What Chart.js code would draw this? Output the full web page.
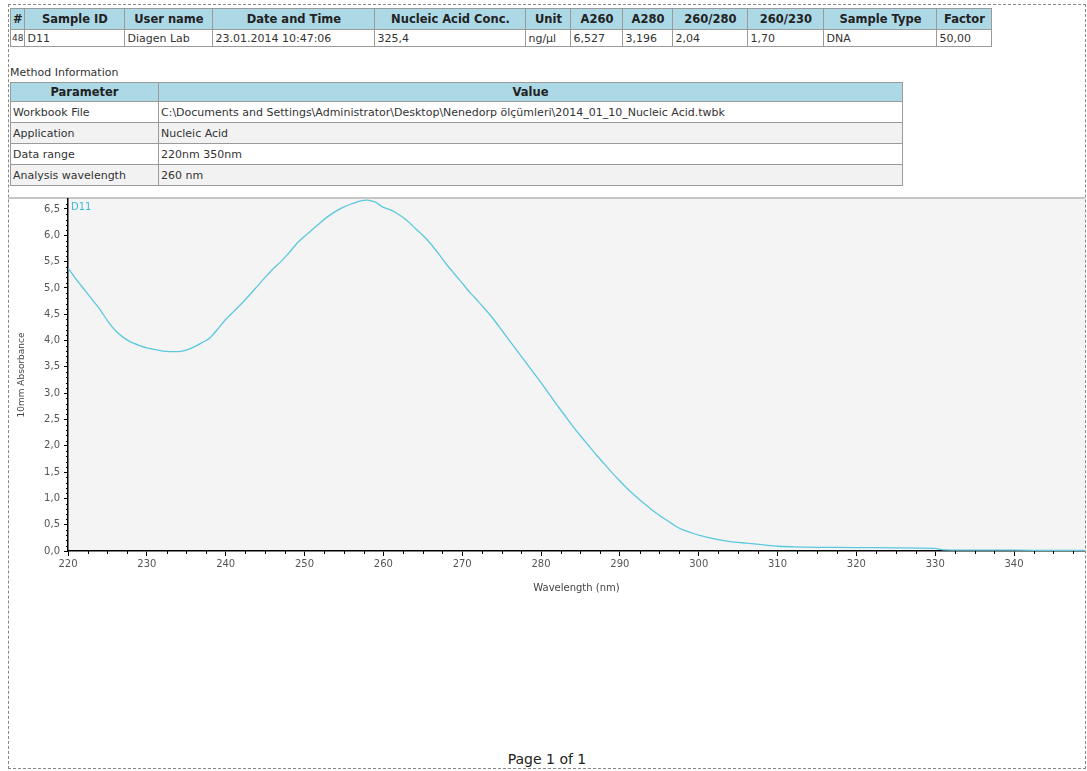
<!DOCTYPE html>
<html>
<head>
<meta charset="utf-8">
<script src="https://cdn.jsdelivr.net/npm/chart.js@4.4.1/dist/chart.umd.min.js"></script>
<style>
body{margin:0;background:#fff;font-family:"DejaVu Sans",Verdana,sans-serif;color:#333;}
#page{position:absolute;left:8px;top:4px;width:1076px;height:763px;border:1px dashed #888;}
table{position:absolute;border-collapse:collapse;table-layout:fixed;}
td,th{border:1px solid #9a9a9a;padding:0 2px;white-space:nowrap;overflow:hidden;font-size:11px;text-align:left;}
th{background:#add8e6;font-weight:bold;color:#222;font-size:11.5px;}
#sample{left:10px;top:8px;}
#sample th{height:20px;text-align:center;}
#sample td{height:16px;}
#methodTitle{position:absolute;left:10px;top:66px;font-size:11px;color:#333;}
#method{left:10px;top:82px;}
#method th{height:18px;text-align:center;}
#method td{height:20px;}
#method tr:nth-child(even) td{background:#f2f2f2;}
#wrap{position:absolute;left:8px;top:189px;width:1077px;height:409px;}
#footer{position:absolute;left:0;width:1094px;top:751px;text-align:center;font-size:14px;color:#222;}
</style>
</head>
<body>
<div id="page"></div>
<table id="sample"><thead><tr id="sampleHead"></tr></thead><tbody><tr id="sampleRow"></tr></tbody></table>
<div id="methodTitle">Method Information</div>
<table id="method"><thead><tr><th style="width:143px">Parameter</th><th style="width:739px">Value</th></tr></thead><tbody id="methodBody"></tbody></table>
<div id="wrap"><canvas id="myChart"></canvas></div>
<div id="footer">Page 1 of 1</div>
<script>
var sampleHeaders = ['#','Sample ID','User name','Date and Time','Nucleic Acid Conc.','Unit','A260','A280','260/280','260/230','Sample Type','Factor'];
var sampleValues = ['48','D11','Diagen Lab','23.01.2014 10:47:06','325,4','ng/\u00b5l','6,527','3,196','2,04','1,70','DNA','50,00'];
var sampleWidths = [8,95,83,157,146,40,47,45,70,71,108,50];

var methodParams = ['Workbook File','Application','Data range','Analysis wavelength'];
var methodValues = ['C:\\Documents  and  Settings\\Administrator\\Desktop\\Nenedorp  \u00f6l\u00e7\u00fcmleri\\2014_01_10_Nucleic  Acid.twbk','Nucleic Acid','220nm  350nm','260 nm'];

var wavelengths = [220,221,222,223,224,225,226,227,228,229,230,231,232,233,234,235,236,237,238,239,
  240,241,242,243,244,245,246,247,248,249,250,251,252,253,254,255,256,257,258,259,
  260,261,262,263,264,265,266,267,268,269,270,271,272,273,274,275,276,277,278,279,
  280,281,282,283,284,285,286,287,288,289,290,291,292,293,294,295,296,297,298,299,
  300,302,304,306,308,310,312,315,320,325,330,331,335,340,345,349];
var absorbance = [5.38,5.17,4.98,4.79,4.60,4.38,4.19,4.06,3.97,3.91,3.86,3.83,3.80,3.79,3.79,3.82,3.88,3.96,4.05,4.22,
  4.40,4.55,4.70,4.86,5.03,5.20,5.36,5.50,5.66,5.84,5.98,6.11,6.24,6.36,6.46,6.54,6.60,6.65,6.67,6.63,
  6.53,6.48,6.39,6.28,6.14,6.00,5.84,5.65,5.45,5.27,5.09,4.91,4.75,4.58,4.40,4.20,4.00,3.80,3.60,3.40,
  3.20,2.99,2.78,2.58,2.38,2.19,2.01,1.83,1.66,1.49,1.33,1.18,1.04,0.91,0.79,0.68,0.58,0.48,0.40,0.35,
  0.30,0.23,0.18,0.15,0.12,0.09,0.08,0.07,0.065,0.06,0.05,0.02,0.018,0.015,0.012,0.012];

var head = document.getElementById('sampleHead');
var row = document.getElementById('sampleRow');
for (var i = 0; i < sampleHeaders.length; i++) {
  var th = document.createElement('th');
  th.textContent = sampleHeaders[i];
  th.style.width = sampleWidths[i] + 'px';
  if (i == 0) th.style.padding = '0 1px';
  head.appendChild(th);
  var td = document.createElement('td');
  td.textContent = sampleValues[i];
  if (i == 0) { td.style.padding = '0 1px'; td.style.fontSize = '9px'; }
  row.appendChild(td);
}
var body = document.getElementById('methodBody');
for (var j = 0; j < methodParams.length; j++) {
  var tr = document.createElement('tr');
  var a = document.createElement('td'); a.textContent = methodParams[j];
  var b = document.createElement('td'); b.textContent = methodValues[j];
  tr.appendChild(a); tr.appendChild(b);
  body.appendChild(tr);
}

var points = wavelengths.map(function (w, k) { return {x: w, y: absorbance[k]}; });

// plot background, top rule, minor ticks and series tag
var panel = {
  id: 'panel',
  beforeDraw: function (chart) {
    var ctx = chart.ctx, a = chart.chartArea;
    ctx.save();
    ctx.fillStyle = '#f4f4f4';
    ctx.fillRect(a.left, a.top, a.right - a.left, a.bottom - a.top);
    ctx.fillStyle = '#c6c6c6';
    ctx.fillRect(0, a.top - 2, chart.width, 2);
    ctx.restore();
  },
  afterDraw: function (chart) {
    var ctx = chart.ctx, a = chart.chartArea;
    var xs = chart.scales.x, ys = chart.scales.y;
    ctx.save();
    ctx.strokeStyle = '#000';
    ctx.lineWidth = 1;
    for (var v = 222.5; v < xs.max; v += 2.5) {
      if (v % 10 == 0) continue;
      var px = Math.round(xs.getPixelForValue(v)) + 0.5;
      ctx.beginPath(); ctx.moveTo(px, a.bottom); ctx.lineTo(px, a.bottom + 3); ctx.stroke();
    }
    for (var t = 1; t < 67; t++) {
      if (t % 5 == 0) continue;
      var py = Math.round(ys.getPixelForValue(t / 10)) + 0.5;
      ctx.beginPath(); ctx.moveTo(a.left - 2, py); ctx.lineTo(a.left, py); ctx.stroke();
    }
    ctx.fillStyle = '#3cb9d6';
    ctx.font = '10px "DejaVu Sans"';
    ctx.textBaseline = 'middle';
    ctx.fillText(chart.data.datasets[0].label, a.left + 3, a.top + 8);
    ctx.restore();
  }
};

new Chart('myChart', {
  type: 'line',
  data: {
    datasets: [{
      label: 'D11',
      data: points,
      borderColor: '#5cc8de',
      borderWidth: 1.3,
      pointRadius: 0,
      tension: 0.2,
      fill: false
    }]
  },
  plugins: [panel],
  options: {
    responsive: true,
    maintainAspectRatio: false,
    animation: false,
    layout: {padding: {top: 2, right: 0, left: 0, bottom: 0}},
    plugins: {legend: {display: false}, tooltip: {enabled: false}},
    scales: {
      x: {
        type: 'linear',
        min: 220,
        max: 349,
        afterFit: function (s) { s.height = 47; },
        ticks: {stepSize: 10, includeBounds: false, color: '#555', font: {size: 10, family: 'DejaVu Sans'}, padding: 2,
          callback: function (v) { return String(v); }},
        grid: {drawOnChartArea: false, color: '#000', tickLength: 5},
        border: {color: '#000', width: 1.5},
        title: {display: true, text: 'Wavelength (nm)', color: '#444', font: {size: 10, family: 'DejaVu Sans'}, padding: {top: 2, bottom: 4}}
      },
      y: {
        min: 0,
        max: 6.69,
        afterFit: function (s) { s.width = 60; },
        ticks: {stepSize: 0.5, includeBounds: false, color: '#555', font: {size: 10, family: 'DejaVu Sans'}, padding: 4,
          callback: function (v) { return v.toFixed(1).replace('.', ','); }},
        grid: {drawOnChartArea: false, color: '#000', tickLength: 4},
        border: {color: '#000', width: 1.5},
        title: {display: true, text: '10mm Absorbance', color: '#444', font: {size: 9, family: 'DejaVu Sans'}, padding: {top: 8, bottom: 0}}
      }
    }
  }
});
</script>
</body>
</html>
